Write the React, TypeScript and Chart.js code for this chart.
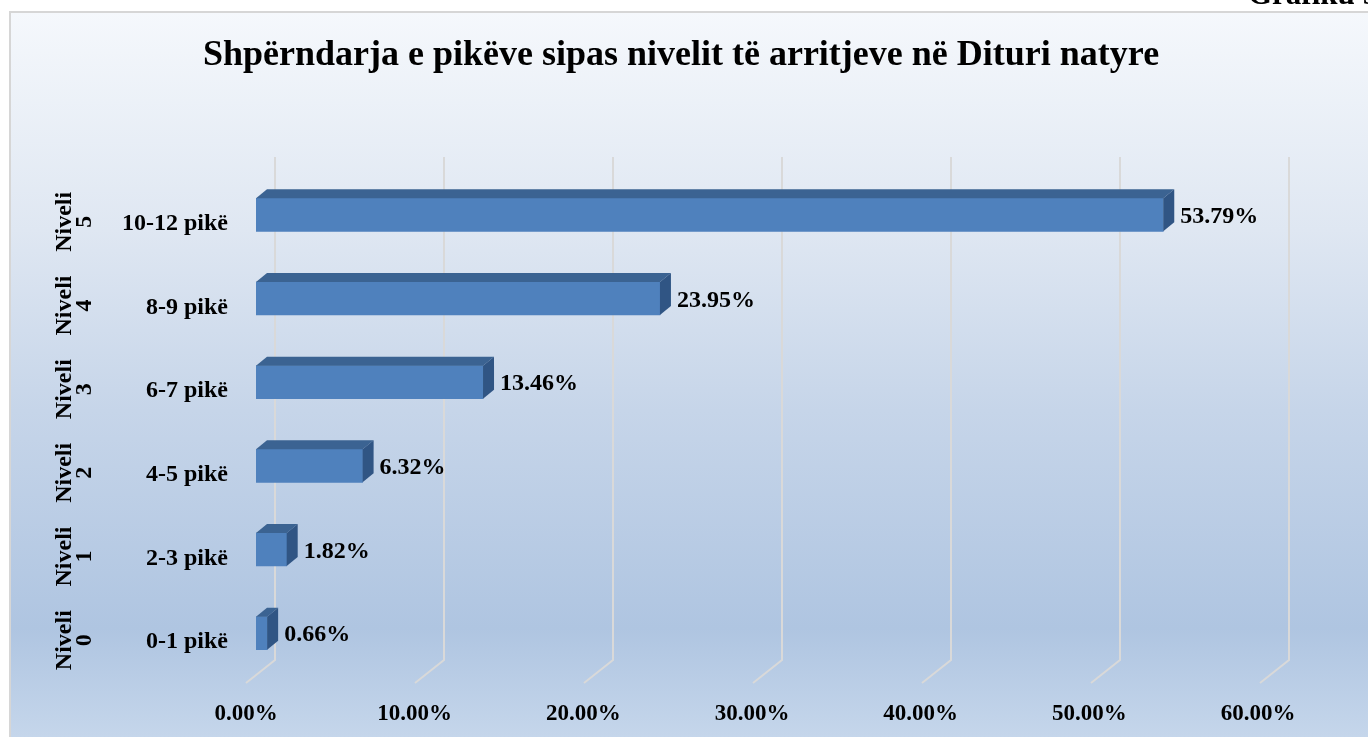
import React, { useEffect, useRef } from "react";
import { Chart, registerables } from "chart.js";

Chart.register(...registerables);

const TITLE = "Shpërndarja e pikëve sipas nivelit të arritjeve në Dituri natyre";
const CORNER_TEXT = "Grafiku 9";
const categories = ["10-12 pikë", "8-9 pikë", "6-7 pikë", "4-5 pikë", "2-3 pikë", "0-1 pikë"];
const levelLabels = [
  ["Niveli", "5"],
  ["Niveli", "4"],
  ["Niveli", "3"],
  ["Niveli", "2"],
  ["Niveli", "1"],
  ["Niveli", "0"],
];
const values = [53.79, 23.95, 13.46, 6.32, 1.82, 0.66];
const xMin = 0;
const xMax = 60;
const xStep = 10;

const FONT = "'Liberation Serif', 'Times New Roman', serif";
const FRONT = "#4f81bd";
const TOP = "#3b6392";
const SIDE = "#305584";
const GRID = "#d9d9d9";
const DX = 11;
const DY = -9;

const decorPlugin = {
  id: "decor3d",
  beforeDraw(chart: any) {
    const { ctx, width, height } = chart;
    ctx.save();
    ctx.fillStyle = "#ffffff";
    ctx.fillRect(0, 0, width, height);
    const g = ctx.createLinearGradient(0, 12, 0, height);
    g.addColorStop(0, "#f5f8fc");
    g.addColorStop(0.3, "#dfe7f2");
    g.addColorStop(0.55, "#c6d5e9");
    g.addColorStop(0.85, "#afc5e1");
    g.addColorStop(1, "#c5d6eb");
    ctx.fillStyle = g;
    ctx.fillRect(10, 12, width - 10, height - 12);
    ctx.strokeStyle = "#d6d6d6";
    ctx.lineWidth = 2;
    ctx.beginPath();
    ctx.moveTo(10, height);
    ctx.lineTo(10, 12);
    ctx.lineTo(width, 12);
    ctx.stroke();

    // corner caption (cut off at top of page)
    ctx.fillStyle = "#000";
    ctx.font = `bold 31px ${FONT}`;
    ctx.textAlign = "left";
    ctx.textBaseline = "alphabetic";
    ctx.fillText(CORNER_TEXT, 1248, 4);

    // title
    ctx.font = `bold 36px ${FONT}`;
    ctx.textAlign = "center";
    ctx.textBaseline = "middle";
    ctx.fillText(TITLE, 681, 56);
    ctx.restore();
  },
  beforeDatasetsDraw(chart: any) {
    const { ctx, chartArea } = chart;
    const xs = chart.scales.x;
    ctx.save();
    ctx.strokeStyle = GRID;
    ctx.lineWidth = 2;
    for (let v = xMin; v <= xMax; v += xStep) {
      const px = xs.getPixelForValue(v);
      const backX = px + 19 + (v / xMax) * 2;
      ctx.beginPath();
      ctx.moveTo(backX, chartArea.top - 16);
      ctx.lineTo(backX, chartArea.bottom - 15);
      ctx.lineTo(backX - 29, chartArea.bottom + 8);
      ctx.stroke();
    }
    ctx.restore();
  },
  afterDatasetsDraw(chart: any) {
    const { ctx } = chart;
    const meta = chart.getDatasetMeta(0);
    const ys = chart.scales.y;
    ctx.save();
    meta.data.forEach((bar: any, i: number) => {
      const { x, y, base, height } = bar.getProps(["x", "y", "base", "height"], true);
      const top = y - height / 2;
      const bottom = y + height / 2;
      // top face
      ctx.fillStyle = TOP;
      ctx.beginPath();
      ctx.moveTo(base, top);
      ctx.lineTo(x, top);
      ctx.lineTo(x + DX, top + DY);
      ctx.lineTo(base + DX, top + DY);
      ctx.closePath();
      ctx.fill();
      // side face
      ctx.fillStyle = SIDE;
      ctx.beginPath();
      ctx.moveTo(x, top);
      ctx.lineTo(x + DX, top + DY);
      ctx.lineTo(x + DX, bottom + DY);
      ctx.lineTo(x, bottom);
      ctx.closePath();
      ctx.fill();
      // value label
      ctx.fillStyle = "#000";
      ctx.font = `bold 24px ${FONT}`;
      ctx.textAlign = "left";
      ctx.textBaseline = "middle";
      ctx.fillText(values[i].toFixed(2) + "%", x + 17, y + 2);
    });
    // level labels (rotated, two lines)
    levelLabels.forEach((lines, i) => {
      const cy = ys.getPixelForValue(i) + 7;
      ctx.save();
      ctx.translate(75, cy);
      ctx.rotate(-Math.PI / 2);
      ctx.fillStyle = "#000";
      ctx.font = `bold 24px ${FONT}`;
      ctx.textAlign = "center";
      ctx.textBaseline = "middle";
      ctx.fillText(lines[0], 0, -10);
      ctx.fillText(lines[1], 0, 10);
      ctx.restore();
    });
    ctx.restore();
  },
};

export default function App() {
  const ref = useRef<HTMLCanvasElement>(null);
  useEffect(() => {
    if (!ref.current) return;
    const chart = new Chart(ref.current, {
      type: "bar",
      data: {
        labels: categories,
        datasets: [
          {
            data: values,
            backgroundColor: FRONT,
            borderWidth: 0,
            barThickness: 33,
          },
        ],
      },
      options: {
        indexAxis: "y",
        animation: false,
        responsive: false,
        maintainAspectRatio: false,
        layout: { padding: { left: 0, right: 100, top: 173, bottom: 0 } },
        plugins: { legend: { display: false }, tooltip: { enabled: false }, title: { display: false } },
        scales: {
          x: {
            min: xMin,
            max: xMax,
            grid: { display: false, drawTicks: false },
            border: { display: false },
            ticks: {
              stepSize: xStep,
              padding: 25,
              labelOffset: -10,
              color: "#000",
              font: { family: FONT, size: 23, weight: "bold" },
              callback: (v: any) => Number(v).toFixed(2) + "%",
            },
            afterFit: (s: any) => {
              s.height = 62;
            },
          },
          y: {
            grid: { display: false, drawTicks: false },
            border: { display: false },
            ticks: {
              padding: 28,
              labelOffset: 9,
              color: "#000",
              font: { family: FONT, size: 24, weight: "bold" },
            },
            afterFit: (s: any) => {
              s.width = 256;
            },
          },
        },
      },
      plugins: [decorPlugin],
    });
    return () => chart.destroy();
  }, []);
  return (
    <div style={{ position: "fixed", left: 0, top: 0, width: 1368, height: 737 }}>
      <canvas ref={ref} width={1368} height={737} style={{ display: "block" }} />
    </div>
  );
}
